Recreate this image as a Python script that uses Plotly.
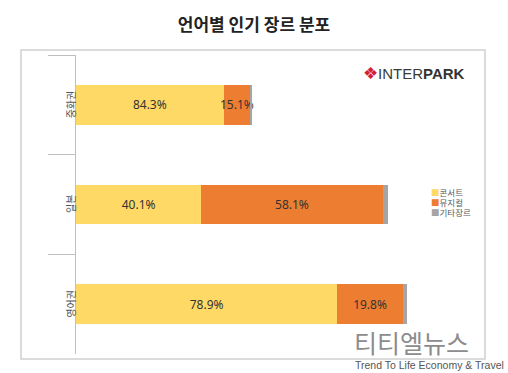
import plotly.graph_objects as go

# ---- data ----
categories = ["중화권", "일본", "영어권"]
series_names = ["콘서트", "뮤지컬", "기타장르"]
concert_pct = [84.3, 40.1, 78.9]
musical_pct = [15.1, 58.1, 19.8]
other_pct = [0.6, 1.8, 1.3]
# relative size of each language group (영어권 = 100)
group_index = [52.9, 94.3, 100.0]

colors = ["#FFD966", "#ED7D31", "#A5A5A5"]

W, H = 508, 373
ML, MR, MT, MB = 76, 32, 55, 19
PW = W - ML - MR
PH = H - MT - MB
XMAX = 120.8


def px_to_paper_x(px):
    return (px - ML) / PW


def px_to_paper_y(py):
    return (H - MB - py) / PH


fig = go.Figure()
all_pct = [concert_pct, musical_pct, other_pct]
for name, pct, col, show_text in zip(series_names, all_pct, colors, [True, True, False]):
    lengths = [g * p / 100 for g, p in zip(group_index, pct)]
    fig.add_trace(go.Bar(
        name=name,
        y=categories,
        x=lengths,
        orientation="h",
        marker=dict(color=col, line=dict(width=0)),
        text=[f"{p:.1f}%" for p in pct] if show_text else None,
        textposition="inside" if show_text else "none",
        insidetextanchor="middle",
        constraintext="none",
        textangle=0,
        textfont=dict(family="Noto Sans, Open Sans, sans-serif", size=12, color="#333333"),
        hoverinfo="skip",
    ))

fig.update_layout(
    width=W, height=H,
    barmode="stack",
    bargap=0.6,
    showlegend=False,
    paper_bgcolor="white",
    plot_bgcolor="white",
    margin=dict(l=ML, r=MR, t=MT, b=MB, pad=0, autoexpand=False),
    title=dict(
        text="<b>언어별 인기 장르 분포</b>",
        x=0.5, xref="container", xanchor="center",
        y=1 - 25 / H, yref="container", yanchor="middle",
        font=dict(family="Noto Sans CJK KR", size=17, color="#222222"),
    ),
    xaxis=dict(range=[0, XMAX], visible=False, fixedrange=True),
    yaxis=dict(
        categoryorder="array", categoryarray=categories,
        autorange="reversed", automargin=False, fixedrange=True,
        showline=True, linecolor="#bfbfbf", linewidth=1,
        ticks="outside", tickson="boundaries", ticklen=27, tickcolor="#bfbfbf", tickwidth=1,
        showticklabels=False, showgrid=False, zeroline=False,
    ),
)

# outer frame
fig.add_shape(type="rect", xref="paper", yref="paper",
              x0=px_to_paper_x(21), x1=px_to_paper_x(485),
              y0=px_to_paper_y(359), y1=px_to_paper_y(50),
              line=dict(color="#d0d0d0", width=1.5), layer="below")

# category labels (rotated)
for c in categories:
    fig.add_annotation(x=px_to_paper_x(61), xref="paper", y=c, yref="y",
                       text=c, textangle=-90, showarrow=False,
                       font=dict(family="Noto Sans CJK KR", size=10, color="#555555"))

# legend
legend_y = [192, 202, 212]
for name, col, py in zip(series_names, colors, legend_y):
    fig.add_annotation(x=px_to_paper_x(429), xref="paper", y=px_to_paper_y(py), yref="paper",
                       xanchor="left", yanchor="middle", showarrow=False,
                       text=f"<span style='color:{col}'>■</span>{name}",
                       font=dict(family="Noto Sans CJK KR", size=8.5, color="#595959"))

# logo
fig.add_annotation(x=px_to_paper_x(361), xref="paper", y=px_to_paper_y(74), yref="paper",
                   xanchor="left", yanchor="middle", showarrow=False,
                   text="<span style='color:#d1203a;font-size:17px'>❖</span>"
                        "<span style='color:#3a3a3a'>INTER</span><b style='color:#333'>PARK</b>",
                   font=dict(family="Liberation Sans, Arial, sans-serif", size=15, color="#333333"))

# watermark
fig.add_annotation(x=px_to_paper_x(352), xref="paper", y=px_to_paper_y(342), yref="paper",
                   xanchor="left", yanchor="middle", showarrow=False,
                   text="티티엘뉴스",
                   font=dict(family="Noto Sans CJK KR", size=25, color="#8c8c8c"))
fig.add_annotation(x=px_to_paper_x(353), xref="paper", y=px_to_paper_y(365), yref="paper",
                   xanchor="left", yanchor="middle", showarrow=False,
                   text="Trend To Life Economy & Travel",
                   font=dict(family="Liberation Sans, Arial, sans-serif", size=10.5, color="#555555"))

fig.write_html("out.html", config={"displayModeBar": False},
               post_script="document.body.style.margin='0';")
